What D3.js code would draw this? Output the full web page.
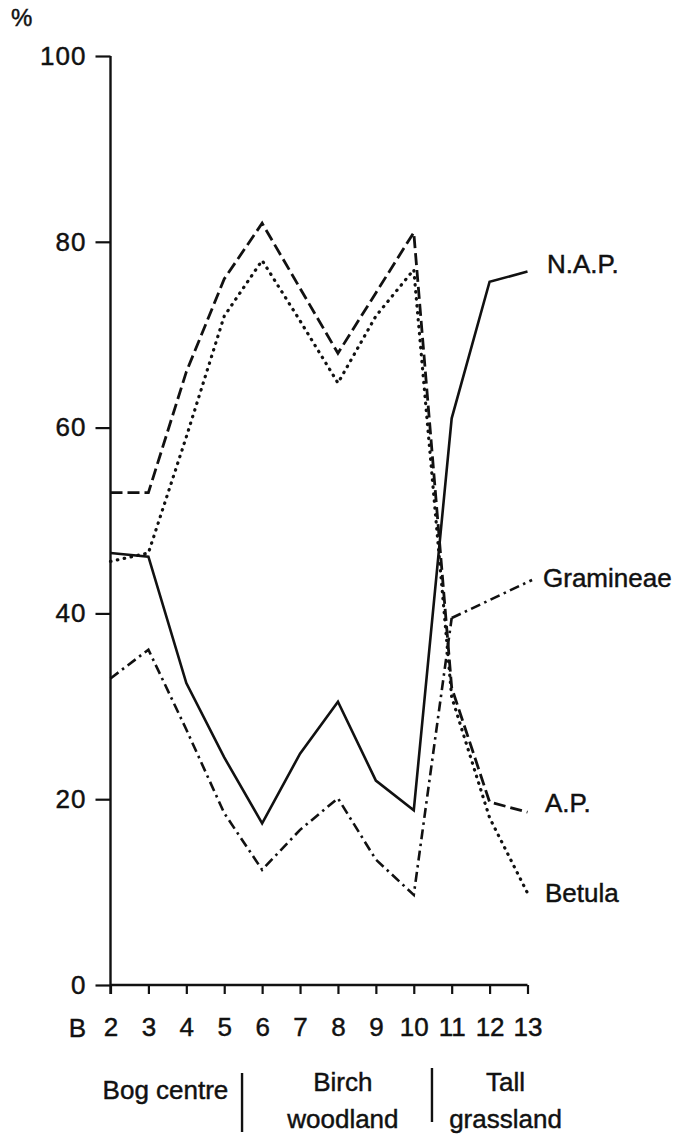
<!DOCTYPE html>
<html>
<head>
<meta charset="utf-8">
<script src="https://cdn.jsdelivr.net/npm/d3@7"></script>
<style>
  body { margin: 0; background: #ffffff; }
  svg text { font-family: "Liberation Sans", Arial, sans-serif; fill: #111; stroke: #111; stroke-width: 0.45px; }
</style>
</head>
<body>
<svg></svg>
<script>
// sample positions along the transect (B, then 2..13)
var samples = [2, 3, 4, 5, 6, 7, 8, 9, 10, 11, 12, 13]
var xTickLabels = ["2", "3", "4", "5", "6", "7", "8", "9", "10", "11", "12", "13"]
var yTicks = [0, 20, 40, 60, 80, 100]

// percentages
var apValues = [53, 53, 66, 76, 82, 75, 68, 74.5, 81, 32, 19.7, 18.6]
var betulaValues = [45.6, 46.5, 59, 72, 78, 71.5, 64.8, 72, 77, 31, 18, 9.9]
var napValues = [46.5, 46.1, 32.5, 24.5, 17.4, 24.9, 30.5, 22, 18.8, 61, 75.7, 76.8]
var gramineaeValues = [33, 36.1, 27.5, 18.5, 12.4, 16.7, 20.1, 13.5, 9.7, 39.5]

var seriesNames = ["N.A.P.", "Gramineae", "A.P.", "Betula"]

// vegetation zones under the x axis
var zoneNames = [["Bog centre"], ["Birch", "woodland"], ["Tall", "grassland"]]
var zoneBreaks = [5.47, 10.48]

var mainCode = function () {
    var screen = { width: 679, height: 1135 }
    var plot = { left: 110.5, right: 527.5, top: 56, bottom: 985 }

    var svg = d3.select("svg")
        .attr("width", screen.width)
        .attr("height", screen.height)

    var xScale = d3.scaleLinear()
        .domain([2, 13])
        .range([plot.left, plot.right])

    var yScale = d3.scaleLinear()
        .domain([0, 100])
        .range([plot.bottom, plot.top])

    // line styles copy the printed figure
    var styles = {
        "N.A.P.": { dash: null, cap: "butt", width: 2.6 },
        "A.P.": { dash: "12,5", cap: "butt", width: 2.8 },
        "Betula": { dash: "0.5,6.5", cap: "round", width: 3.2 },
        "Gramineae": { dash: "10,4.5,2.5,4.5", cap: "butt", width: 2.6 }
    }

    var series = [
        { name: "N.A.P.", values: napValues, label: { x: 547, dy: -8 } },
        { name: "Gramineae", values: gramineaeValues, label: { x: 543, dy: 0 }, leader: [13.12, 43.6] },
        { name: "A.P.", values: apValues, label: { x: 545, dy: -9 } },
        { name: "Betula", values: betulaValues, label: { x: 545, dy: 0 } }
    ]

    var lineGenerator = d3.line()
        .x(function (d) { return xScale(d[0]) })
        .y(function (d) { return yScale(d[1]) })

    // axes
    var yAxis = d3.axisLeft(yScale).tickValues(yTicks).tickSize(15).tickPadding(9)
    var xAxis = d3.axisBottom(xScale).tickValues(samples)
        .tickFormat(function (d, i) { return xTickLabels[i] })
        .tickSize(9).tickPadding(24)

    var gy = svg.append("g").attr("id", "yAxis")
        .attr("transform", "translate(" + plot.left + ",0)")
        .call(yAxis)
    var gx = svg.append("g").attr("id", "xAxis")
        .attr("transform", "translate(0," + plot.bottom + ")")
        .call(xAxis)

    gy.select(".domain").attr("d", "M0," + plot.top + "V" + (plot.bottom + 9))
    gx.select(".domain").attr("d", "M" + plot.left + ",0H" + plot.right)
    svg.selectAll(".domain").attr("stroke", "#111").attr("stroke-width", 2.4)
    svg.selectAll(".tick line").attr("stroke", "#111").attr("stroke-width", 2.2)
    svg.selectAll(".tick text")
        .attr("font-size", 26)
        .attr("letter-spacing", 1)
        .attr("font-family", "Liberation Sans, Arial, sans-serif")
        .attr("fill", "#111")
    gx.selectAll(".tick text").attr("letter-spacing", 0)

    svg.append("text").text("%")
        .attr("x", 11).attr("y", 26)
        .attr("font-size", 24)

    svg.append("text").text("B")
        .attr("x", xScale(2) - 33).attr("y", plot.bottom + 52)
        .attr("text-anchor", "middle")
        .attr("font-size", 26)

    // series lines
    series.forEach(function (s) {
        var pts = s.values.map(function (v, i) { return [samples[i], v] })
        var st = styles[s.name]
        svg.append("path")
            .datum(pts)
            .attr("fill", "none")
            .attr("stroke", "#111")
            .attr("stroke-width", st.width)
            .attr("stroke-dasharray", st.dash)
            .attr("stroke-linecap", st.cap)
            .attr("stroke-linejoin", "miter")
            .attr("d", lineGenerator)

        var last = pts[pts.length - 1]
        var labelY = yScale(last[1]) + s.label.dy
        if (s.leader) {
            // gramineae stops at 11, a leader runs out to its name
            svg.append("path")
                .datum([last, s.leader])
                .attr("fill", "none")
                .attr("stroke", "#111")
                .attr("stroke-width", st.width)
                .attr("stroke-dasharray", st.dash)
                .attr("d", lineGenerator)
            labelY = yScale(s.leader[1]) - 2
        }
        svg.append("text").text(s.name)
            .attr("x", s.label.x)
            .attr("y", labelY)
            .attr("dy", "0.35em")
            .attr("font-size", 26)
    })

    // zone labels and separators
    var zoneCentres = [3.45, 8.13, 12.42]
    zoneNames.forEach(function (lines, i) {
        var t = svg.append("text")
            .attr("text-anchor", "middle")
            .attr("font-size", 26)
            .attr("x", xScale(zoneCentres[i]))
        if (lines.length == 1) {
            t.append("tspan").attr("x", xScale(zoneCentres[i])).attr("y", 1099).text(lines[0])
        } else {
            t.append("tspan").attr("x", xScale(zoneCentres[i])).attr("y", 1091).text(lines[0])
            t.append("tspan").attr("x", xScale(zoneCentres[i])).attr("y", 1128).text(lines[1])
        }
    })

    svg.selectAll(".zoneBreak")
        .data(zoneBreaks)
        .enter()
        .append("line")
        .attr("class", "zoneBreak")
        .attr("x1", function (d) { return xScale(d) })
        .attr("x2", function (d) { return xScale(d) })
        .attr("y1", function (d, i) { return i == 0 ? 1073 : 1068 })
        .attr("y2", function (d, i) { return i == 0 ? 1132 : 1122 })
        .attr("stroke", "#111")
        .attr("stroke-width", 2.4)
}

mainCode()
</script>
</body>
</html>
